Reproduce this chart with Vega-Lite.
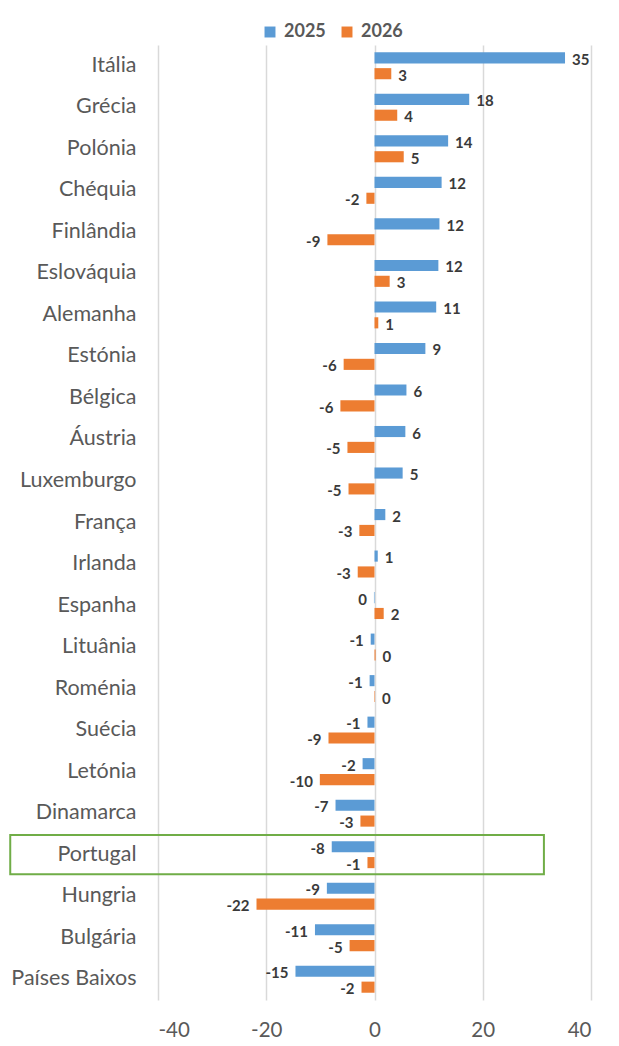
{
  "$schema": "https://vega.github.io/schema/vega-lite/v6.json",
  "autosize": {"type": "none"},
  "width": 433,
  "height": 955,
  "padding": {"left": 158, "top": 45, "right": 28, "bottom": 46},
  "config": {
    "view": {"stroke": null},
    "font": "Lato",
    "locale": {"number": {"decimal": ".", "thousands": ",", "grouping": [3], "currency": ["$", ""], "minus": "-"}}
  },
  "data": {"values": [
    {"country": "Itália", "year": "2025", "value": 35.2},
    {"country": "Itália", "year": "2026", "value": 3.1},
    {"country": "Grécia", "year": "2025", "value": 17.5},
    {"country": "Grécia", "year": "2026", "value": 4.2},
    {"country": "Polónia", "year": "2025", "value": 13.6},
    {"country": "Polónia", "year": "2026", "value": 5.4},
    {"country": "Chéquia", "year": "2025", "value": 12.4},
    {"country": "Chéquia", "year": "2026", "value": -1.5},
    {"country": "Finlândia", "year": "2025", "value": 12.0},
    {"country": "Finlândia", "year": "2026", "value": -8.7},
    {"country": "Eslováquia", "year": "2025", "value": 11.8},
    {"country": "Eslováquia", "year": "2026", "value": 2.8},
    {"country": "Alemanha", "year": "2025", "value": 11.4},
    {"country": "Alemanha", "year": "2026", "value": 0.7},
    {"country": "Estónia", "year": "2025", "value": 9.4},
    {"country": "Estónia", "year": "2026", "value": -5.7},
    {"country": "Bélgica", "year": "2025", "value": 5.9},
    {"country": "Bélgica", "year": "2026", "value": -6.3},
    {"country": "Áustria", "year": "2025", "value": 5.7},
    {"country": "Áustria", "year": "2026", "value": -5.0},
    {"country": "Luxemburgo", "year": "2025", "value": 5.2},
    {"country": "Luxemburgo", "year": "2026", "value": -4.8},
    {"country": "França", "year": "2025", "value": 2.0},
    {"country": "França", "year": "2026", "value": -2.8},
    {"country": "Irlanda", "year": "2025", "value": 0.6},
    {"country": "Irlanda", "year": "2026", "value": -3.1},
    {"country": "Espanha", "year": "2025", "value": -0.1},
    {"country": "Espanha", "year": "2026", "value": 1.7},
    {"country": "Lituânia", "year": "2025", "value": -0.7},
    {"country": "Lituânia", "year": "2026", "value": 0.2},
    {"country": "Roménia", "year": "2025", "value": -0.9},
    {"country": "Roménia", "year": "2026", "value": 0.1},
    {"country": "Suécia", "year": "2025", "value": -1.3},
    {"country": "Suécia", "year": "2026", "value": -8.5},
    {"country": "Letónia", "year": "2025", "value": -2.2},
    {"country": "Letónia", "year": "2026", "value": -10.1},
    {"country": "Dinamarca", "year": "2025", "value": -7.2},
    {"country": "Dinamarca", "year": "2026", "value": -2.6},
    {"country": "Portugal", "year": "2025", "value": -7.9},
    {"country": "Portugal", "year": "2026", "value": -1.3},
    {"country": "Hungria", "year": "2025", "value": -8.8},
    {"country": "Hungria", "year": "2026", "value": -21.8},
    {"country": "Bulgária", "year": "2025", "value": -11.0},
    {"country": "Bulgária", "year": "2026", "value": -4.6},
    {"country": "Países Baixos", "year": "2025", "value": -14.6},
    {"country": "Países Baixos", "year": "2026", "value": -2.4}
  ]},
  "encoding": {
    "y": {
      "field": "country", "type": "nominal", "sort": null,
      "scale": {
        "domain": ["Itália", "Grécia", "Polónia", "Chéquia", "Finlândia", "Eslováquia", "Alemanha", "Estónia", "Bélgica", "Áustria", "Luxemburgo", "França", "Irlanda", "Espanha", "Lituânia", "Roménia", "Suécia", "Letónia", "Dinamarca", "Portugal", "Hungria", "Bulgária", "Países Baixos"],
        "paddingInner": 0.35, "paddingOuter": 0.175
      },
      "axis": {"title": null, "domain": false, "ticks": false, "grid": false, "labelFontSize": 21.5, "labelColor": "#595959", "labelPadding": 22, "labelFont": "Lato"}
    }
  },
  "layer": [
    {
      "transform": [{"filter": "datum.country === 'Portugal' && datum.year === '2025'"}],
      "mark": {"type": "rect", "fill": null, "stroke": "#70AD47", "strokeWidth": 2, "height": {"band": 1.45}},
      "encoding": {
        "x": {"datum": -67.3, "type": "quantitative"},
        "x2": {"datum": 31.3}
      }
    },
    {
      "mark": {"type": "bar"},
      "encoding": {
        "x": {
          "field": "value", "type": "quantitative",
          "scale": {"domain": [-40, 40], "nice": false},
          "axis": {"title": null, "values": [-40, -20, 0, 20, 40], "grid": true, "gridColor": "#D9D9D9", "gridWidth": 1.5, "domain": false, "ticks": false, "labelFontSize": 20.5, "labelColor": "#595959", "labelPadding": 20, "labelFont": "Lato"}
        },
        "yOffset": {"field": "year", "type": "nominal", "scale": {"paddingInner": 0.3}},
        "color": {
          "field": "year", "type": "nominal",
          "scale": {"domain": ["2025", "2026"], "range": ["#5B9BD5", "#ED7D31"]},
          "legend": {"title": null, "orient": "none", "legendX": 103, "legendY": -22, "direction": "horizontal", "symbolType": "square", "symbolSize": 120, "labelFontSize": 18, "labelFontWeight": "bold", "labelColor": "#595959", "labelFont": "Lato", "columnPadding": 12, "labelOffset": 5}
        }
      }
    },
    {
      "transform": [{"filter": "datum.value >= 0"}],
      "mark": {"type": "text", "align": "left", "baseline": "middle", "dx": 7, "dy": 2, "fontSize": 15, "fontWeight": "bold", "color": "#3A3A3A", "font": "Lato"},
      "encoding": {
        "x": {"field": "value", "type": "quantitative"},
        "yOffset": {"field": "year", "type": "nominal"},
        "text": {"field": "value", "type": "quantitative", "format": ".0f"}
      }
    },
    {
      "transform": [{"filter": "datum.value < 0"}],
      "mark": {"type": "text", "align": "right", "baseline": "middle", "dx": -7, "dy": 2, "fontSize": 15, "fontWeight": "bold", "color": "#3A3A3A", "font": "Lato"},
      "encoding": {
        "x": {"field": "value", "type": "quantitative"},
        "yOffset": {"field": "year", "type": "nominal"},
        "text": {"field": "value", "type": "quantitative", "format": ".0f"}
      }
    }
  ]
}
